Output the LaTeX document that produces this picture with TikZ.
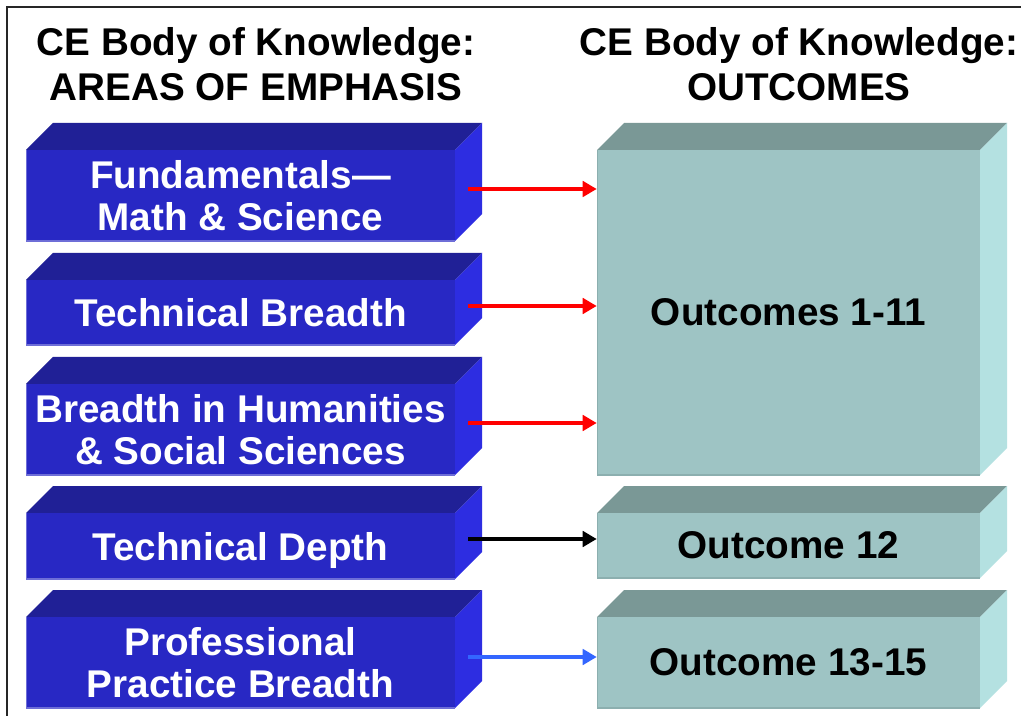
\documentclass[tikz,border=0pt]{standalone}
\usepackage{fontspec}
\setmainfont{Liberation Sans}
\usetikzlibrary{arrows.meta}

\definecolor{bluefront}{RGB}{40,40,196}
\definecolor{bluetop}{RGB}{32,32,150}
\definecolor{blueside}{RGB}{45,45,225}
\definecolor{blueedge}{RGB}{110,110,215}
\definecolor{tealfront}{RGB}{158,196,196}
\definecolor{tealtop}{RGB}{122,152,150}
\definecolor{tealside}{RGB}{180,225,225}
\definecolor{tealedge}{RGB}{140,175,175}
\definecolor{linkblue}{RGB}{51,102,255}

\tikzset{
  heading/.style={align=center, font=\fontsize{29}{33.75}\selectfont\bfseries, inner sep=0pt},
  boxtext/.style={align=center, font=\fontsize{29}{31.5}\selectfont\bfseries, inner sep=0pt},
  link/.style={line width=3pt, -{Triangle[length=10.5pt,width=11.5pt]}},
}

% front face (#2,#3)-(#4,#5), depth 27 units up and right; #6 = colour prefix
\newcommand{\cuboid}[8]{%
  \fill[#6top] (#2,#3) -- (#2+27,#3-27) -- (#4+27,#3-27) -- (#4,#3) -- cycle;
  \fill[#6side] (#4,#3) -- (#4+27,#3-27) -- (#4+27,#5-27) -- (#4,#5) -- cycle;
  \fill[#6front] (#2,#3) rectangle (#4,#5);
  \draw[#6edge, line width=0.8pt] (#2+0.5,#3) -- (#2+0.5,#5) -- (#4,#5);
  \node[boxtext, text=#7, minimum width={(#4-#2)*0.75pt},
        minimum height={(#5-#3)*0.75pt}]
        (#1) at ({(#2+#4)/2},{(#3+#5)/2}) {#8};
}

\begin{document}
\begin{tikzpicture}[x=0.75pt,y=-0.75pt]
  \useasboundingbox (0,0) rectangle (1021,716);
  \clip (0,0) rectangle (1021,716);
  \fill[white] (0,0) rectangle (1021,716);
  \draw[black!85, line width=1.2pt] (7,730) -- (7,7) -- (1035,7);

  % column headings
  \node[heading] (hl) at (256,64) {CE Body of Knowledge:\\AREAS OF EMPHASIS};
  \node[heading] (hr) at (799,64) {CE Body of Knowledge:\\OUTCOMES};

  % areas of emphasis
  \cuboid{f1}{26}{150}{455}{241}{blue}{white}{Fundamentals—\\Math \& Science}
  \cuboid{f2}{26}{280}{455}{345}{blue}{white}{Technical Breadth}
  \cuboid{f3}{26}{384}{455}{475}{blue}{white}{Breadth in Humanities\\\& Social Sciences}
  \cuboid{f4}{26}{513}{455}{579}{blue}{white}{\raisebox{0pt}[\height][0pt]{Technical Depth}}
  \cuboid{f5}{26}{617}{455}{708}{blue}{white}{Professional\\Practice Breadth}

  % outcomes
  \cuboid{o1}{597}{150}{980}{475}{teal}{black}{Outcomes 1-11}
  \cuboid{o2}{597}{513}{980}{578}{teal}{black}{Outcome 12}
  \cuboid{o3}{597}{617}{980}{708}{teal}{black}{Outcome 13-15}

  % arrow tails on the side faces
  \coordinate (s1) at (468,189);
  \coordinate (s2) at (468,306);
  \coordinate (s3) at (468,423);
  \coordinate (s4) at (468,539);
  \coordinate (s5) at (468,657);

  \draw[link, red] (s1) -- (o1.west |- s1);
  \draw[link, red] (s2) -- (o1.west |- s2);
  \draw[link, red] (s3) -- (o1.west |- s3);
  \draw[link, black] (s4) -- (o2.west |- s4);
  \draw[link, linkblue] (s5) -- (o3.west |- s5);
\end{tikzpicture}
\end{document}
